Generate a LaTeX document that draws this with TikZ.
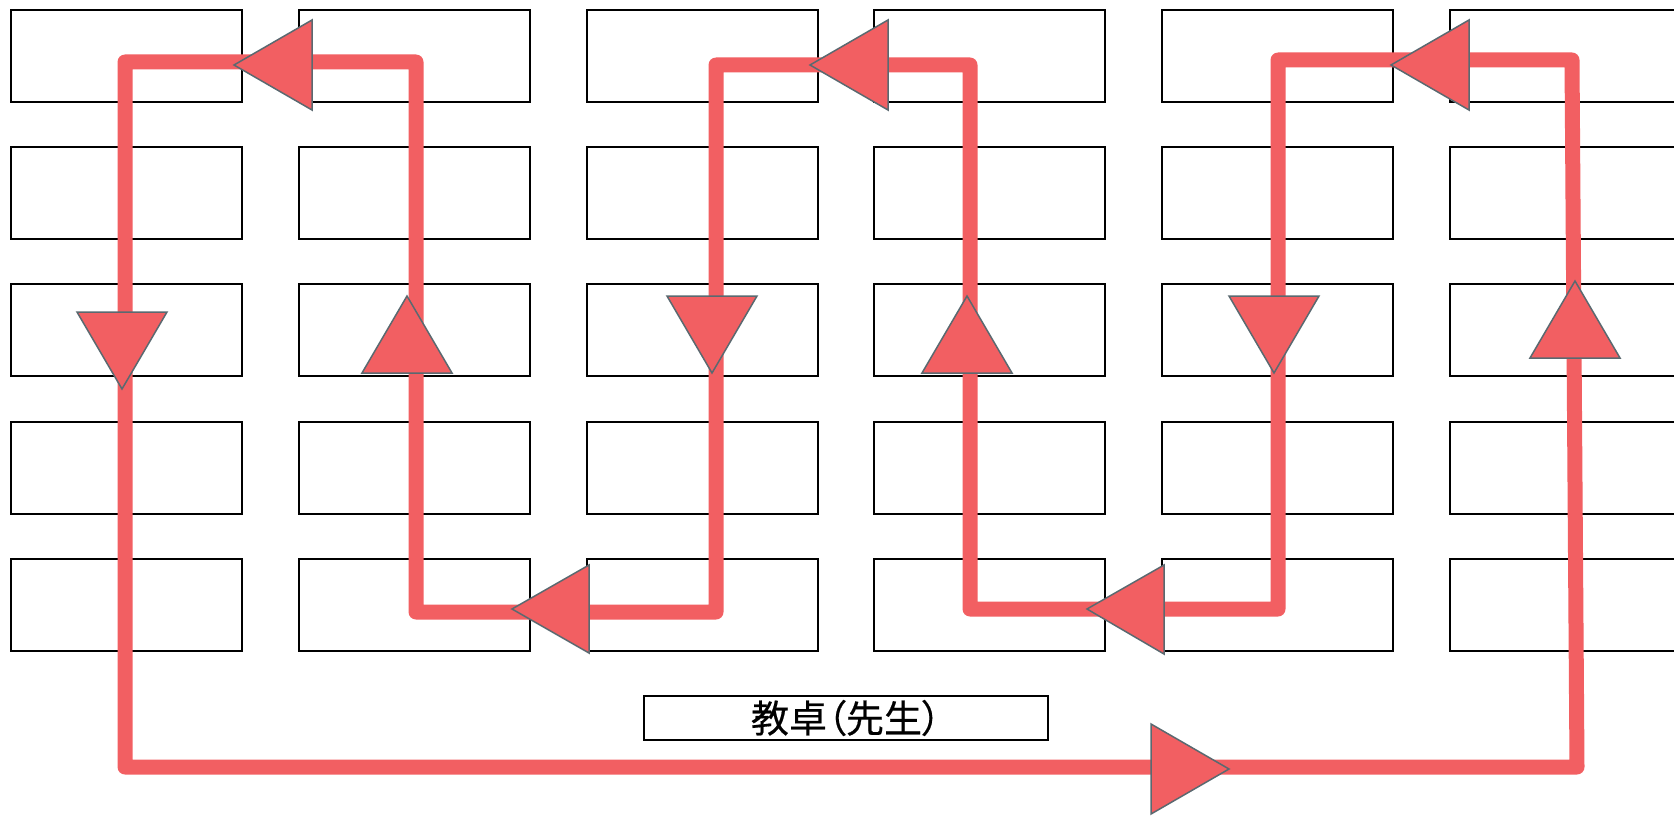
\documentclass[tikz,border=0pt]{standalone}
\usepackage{fontspec}
\newfontfamily\cjk[FakeBold=0.4]{Noto Sans CJK JP}
\newfontfamily\cjkp[RawFeature=+palt, FakeBold=0.4]{Noto Sans CJK JP}
\definecolor{pathred}{RGB}{242,95,98}
\definecolor{triedge}{RGB}{90,105,112}
\tikzset{
  desk/.style={draw=black, line width=2.4pt, minimum width=231pt, minimum height=92pt, inner sep=0pt, outer sep=0pt, fill=white},
  teacher/.style={draw=black, line width=2.4pt, minimum width=404pt, minimum height=44pt, inner sep=0pt, font=\cjk\fontsize{38}{40}\selectfont},
  route/.style={draw=pathred, line width=15pt, line join=round},
  tri/.style={fill=pathred, draw=triedge, line width=1.5pt, line join=miter}
}
\begin{document}
\begin{tikzpicture}[x=1pt, y=-1pt]
\useasboundingbox (0,0) rectangle (1674,816);
\clip (0,0) rectangle (1674,816);
% desks
\foreach \c/\x in {1/11, 2/299, 3/587, 4/874, 5/1162, 6/1450} {
  \foreach \r/\y in {1/10, 2/147, 3/284, 4/422, 5/559} {
    \node[desk] (d-\r-\c) at (\x+115.5, \y+46) {};
  }
}
% teacher desk
\node[teacher] (kyoutaku) at (846,718) {教卓{\cjkp （}先生{\cjkp ）}};
% route corners
\coordinate (p1) at (125,62);
\coordinate (p2) at (125,767);
\coordinate (p3) at (1577,767);
\coordinate (p4) at (1572,60);
\coordinate (p5) at (1278,60);
\coordinate (p6) at (1278,609);
\coordinate (p7) at (970,609);
\coordinate (p8) at (970,65);
\coordinate (p9) at (716,65);
\coordinate (p10) at (716,612);
\coordinate (p11) at (416,612);
\coordinate (p12) at (416,62);
\draw[route] (p1) -- (p2) -- (p3) -- (p4) -- (p5) -- (p6) -- (p7) -- (p8) -- (p9) -- (p10) -- (p11) -- (p12) -- cycle;
% direction triangles
% left-pointing
\filldraw[tri] (234,65) -- ++(78,-45) -- ++(0,90) -- cycle;
\filldraw[tri] (512,609) -- ++(77,-44) -- ++(0,88) -- cycle;
\filldraw[tri] (810,65) -- ++(78,-45) -- ++(0,90) -- cycle;
\filldraw[tri] (1087,609) -- ++(77,-44) -- ++(0,89) -- cycle;
\filldraw[tri] (1391,65) -- ++(78,-45) -- ++(0,90) -- cycle;
% down-pointing
\filldraw[tri] (122,389) -- ++(-45,-77) -- ++(90,0) -- cycle;
\filldraw[tri] (712,373) -- ++(-45,-77) -- ++(90,0) -- cycle;
\filldraw[tri] (1274,373) -- ++(-45,-77) -- ++(90,0) -- cycle;
% up-pointing
\filldraw[tri] (407,296) -- ++(-45,77) -- ++(90,0) -- cycle;
\filldraw[tri] (967,296) -- ++(-45,77) -- ++(90,0) -- cycle;
\filldraw[tri] (1575,281) -- ++(-45,77) -- ++(90,0) -- cycle;
% right-pointing
\filldraw[tri] (1229,769) -- ++(-78,-45) -- ++(0,90) -- cycle;
\end{tikzpicture}
\end{document}
